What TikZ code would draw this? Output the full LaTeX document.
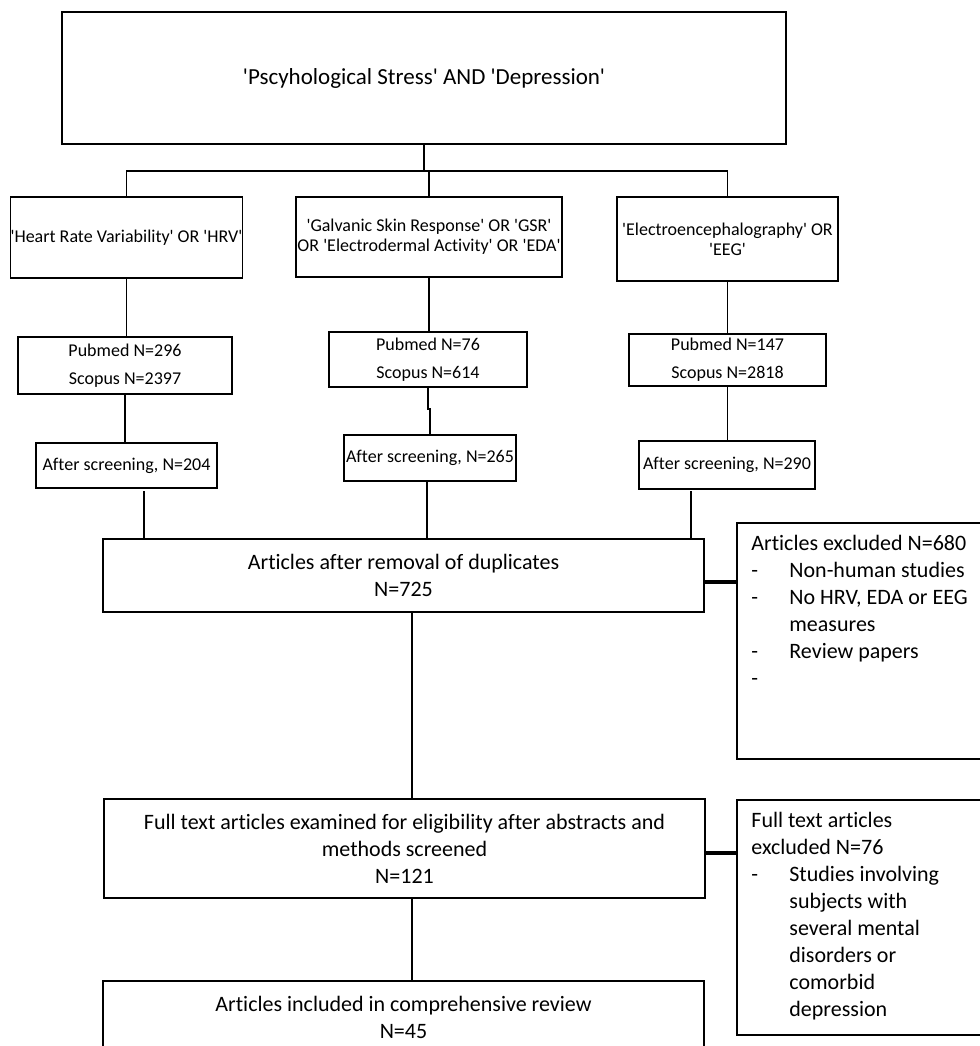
\documentclass[tikz,border=0pt]{standalone}
\usepackage{fontspec}
\setmainfont{Carlito}[Ligatures={TeXOff,NoCommon}]
\begin{document}
\begin{tikzpicture}[x=0.5pt,y=-0.5pt,
  box/.style={draw,line width=0.8pt,inner sep=0pt,align=center},
  smalltxt/.style={font=\fontsize{9}{10}\selectfont},
  pubtxt/.style={font=\fontsize{9}{14}\selectfont},
  bigtxt/.style={font=\fontsize{11}{13.5}\selectfont},
  titletxt/.style={font=\fontsize{11.5}{13.5}\selectfont},
  link/.style={line width=0.8pt},
  sidelink/.style={line width=1.6pt}]%
\useasboundingbox (0,0) rectangle (980,1046);
\clip (0,0) rectangle (980,1046);
% search terms
\node[box,titletxt,minimum width=362pt,minimum height=66pt] (search) at (424,78)
  {'Pscyhological Stress' AND 'Depression'};
\node[box,smalltxt,minimum width=115.5pt,minimum height=40.5pt] (hrv) at (126.5,237.5)
  {'Heart Rate Variability' OR 'HRV'};
\node[box,smalltxt,minimum width=133pt,minimum height=40pt] (gsr) at (429,237)
  {'Galvanic Skin Response' OR 'GSR'\\OR 'Electrodermal Activity' OR 'EDA'};
\node[box,smalltxt,minimum width=110.5pt,minimum height=42pt] (eeg) at (727.5,239)
  {'Electroencephalography' OR\\'EEG'};
% database hits
\node[box,pubtxt,minimum width=107pt,minimum height=28.5pt] (pub1) at (125,365.5)
  {Pubmed N=296\\Scopus N=2397};
\node[box,pubtxt,minimum width=99pt,minimum height=27.5pt] (pub2) at (428,359.5)
  {Pubmed N=76\\Scopus N=614};
\node[box,pubtxt,minimum width=98.5pt,minimum height=26pt] (pub3) at (727.5,360)
  {Pubmed N=147\\Scopus N=2818};
\node[box,smalltxt,minimum width=90.5pt,minimum height=22.5pt] (scr1) at (126.5,465.5)
  {After screening, N=204};
\node[box,smalltxt,minimum width=86pt,minimum height=23pt] (scr2) at (430,458)
  {After screening, N=265};
\node[box,smalltxt,minimum width=88pt,minimum height=24pt] (scr3) at (727,465)
  {After screening, N=290};
% merged stages
\node[box,bigtxt,minimum width=300.5pt,minimum height=36.5pt] (dup) at (403.5,575.5)
  {Articles after removal of duplicates\\N=725};
\node[box,bigtxt,minimum width=300.5pt,minimum height=49.5pt] (full) at (404.5,848.5)
  {Full text articles examined for eligibility after abstracts and\\methods screened\\N=121};
\node[box,bigtxt,minimum width=300.5pt,minimum height=36.5pt] (incl) at (403.5,1017.5)
  {Articles included in comprehensive review\\N=45};
% exclusions
\node[box,anchor=north west,minimum width=150pt,minimum height=118pt] (excl1) at (736,522) {};
\node[bigtxt,anchor=north west,inner sep=0pt,align=left] (excltxt1) at (751,535)
  {Articles excluded N=680\\
   \makebox[19pt][l]{-}Non-human studies\\
   \makebox[19pt][l]{-}No HRV, EDA or EEG\\
   \hspace*{19pt}measures\\
   \makebox[19pt][l]{-}Review papers\\
   \makebox[19pt][l]{-}};
\node[box,anchor=north west,minimum width=150pt,minimum height=117.5pt] (excl2) at (736,799) {};
\node[bigtxt,anchor=north west,inner sep=0pt,align=left] (excltxt2) at (751,812)
  {Full text articles\\
   excluded N=76\\
   \makebox[19pt][l]{-}Studies involving\\
   \hspace*{19pt}subjects with\\
   \hspace*{19pt}several mental\\
   \hspace*{19pt}disorders or\\
   \hspace*{19pt}comorbid\\
   \hspace*{19pt}depression};
% connectors
\coordinate (split) at (424,171);
\draw[link] (search.south) -- (split);
\draw[link] (hrv.north) |- (split) -| (eeg.north);
\draw[link] (gsr.north) -- (gsr.north |- split);
\draw[link] (hrv.south) -- (hrv.south |- pub1.north);
\draw[link] (gsr.south) -- (gsr.south |- pub2.north);
\draw[link] (eeg.south) -- (eeg.south |- pub3.north);
\draw[link] (pub1.south) -- (pub1.south |- scr1.north);
\draw[link] (pub2.south) -- ++(0,21) -| (scr2.north);
\draw[link] (pub3.south) -- (pub3.south |- scr3.north);
\coordinate (m1) at (144,491);
\coordinate (m2) at (427,481);
\coordinate (m3) at (691,491);
\draw[link] (m1) -- (m1 |- dup.north);
\draw[link] (m2) -- (m2 |- dup.north);
\draw[link] (m3) -- (m3 |- dup.north);
\coordinate (trunk) at (412,0);
\draw[link] (dup.south -| trunk) -- (full.north -| trunk);
\draw[link] (full.south -| trunk) -- (incl.north -| trunk);
\coordinate (j1) at (704,582);
\coordinate (j2) at (705,853);
\draw[sidelink] (j1) -- (j1 -| excl1.west);
\draw[sidelink] (j2) -- (j2 -| excl2.west);
\end{tikzpicture}
\end{document}
